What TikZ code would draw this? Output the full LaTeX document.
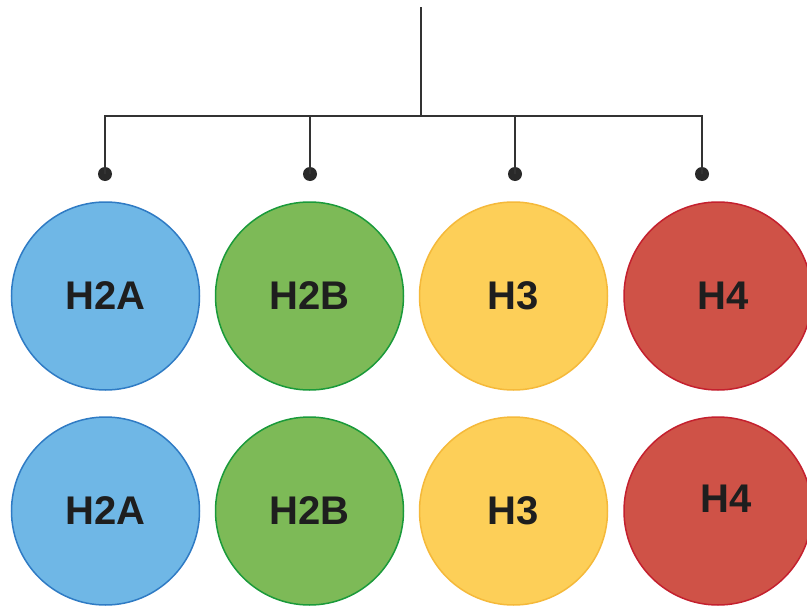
\documentclass[tikz,border=0pt]{standalone}
\usepackage{fontspec}
\setmainfont{Liberation Sans}
\definecolor{bluefill}{HTML}{6FB7E6}
\definecolor{bluedraw}{HTML}{2F7BC4}
\definecolor{greenfill}{HTML}{7DBA57}
\definecolor{greendraw}{HTML}{1A9A3A}
\definecolor{yellowfill}{HTML}{FDCF58}
\definecolor{yellowdraw}{HTML}{F5B93A}
\definecolor{redfill}{HTML}{CF5247}
\definecolor{reddraw}{HTML}{C4202E}
\definecolor{linegray}{HTML}{333333}
\definecolor{textdark}{HTML}{1E1E1E}
\tikzset{
  histone/.style={circle, minimum size=188pt, inner sep=0pt, line width=1.5pt,
    font=\fontsize{40}{40}\selectfont\bfseries, text=textdark},
  lbl/.style={font=\fontsize{40}{40}\selectfont\bfseries, text=textdark, inner sep=0pt},
  dotnode/.style={circle, fill=linegray!80!black, minimum size=14pt, inner sep=0pt},
  wire/.style={draw=linegray, line width=2pt}
}
\begin{document}
\begin{tikzpicture}[x=1pt,y=-1pt]
\useasboundingbox (0,0) rectangle (807,608);
\clip (0,0) rectangle (807,608);
\fill[white] (0,0) rectangle (807,608);
% tree
\coordinate (top) at (421,7);
\coordinate (hub) at (421,116);
\node[dotnode] (d1) at (105,174) {};
\node[dotnode] (d2) at (310,174) {};
\node[dotnode] (d3) at (515,174) {};
\node[dotnode] (d4) at (702,174) {};
\draw[wire] (top) -- (hub);
\draw[wire] (d1.center) |- (hub);
\draw[wire] (d2.center) |- (hub);
\draw[wire] (d3.center) |- (hub);
\draw[wire] (d4.center) |- (hub);
% top row
\node[histone, fill=bluefill, draw=bluedraw] (a1) at (105.5,296) {H2A};
\node[histone, fill=greenfill, draw=greendraw] (b1) at (309.5,296) {H2B};
\node[histone, fill=yellowfill, draw=yellowdraw] (c1) at (513.5,296) {H3};
\node[histone, fill=redfill, draw=reddraw] (e1) at (718,296) {};
\node[lbl] (e1l) at (723,296) {H4};
% bottom row
\node[histone, fill=bluefill, draw=bluedraw] (a2) at (105.5,511) {H2A};
\node[histone, fill=greenfill, draw=greendraw] (b2) at (309.5,511) {H2B};
\node[histone, fill=yellowfill, draw=yellowdraw] (c2) at (513.5,511) {H3};
\node[histone, fill=redfill, draw=reddraw] (e2) at (718,511) {};
\node[lbl] (e2l) at (726,499) {H4};
\end{tikzpicture}
\end{document}
